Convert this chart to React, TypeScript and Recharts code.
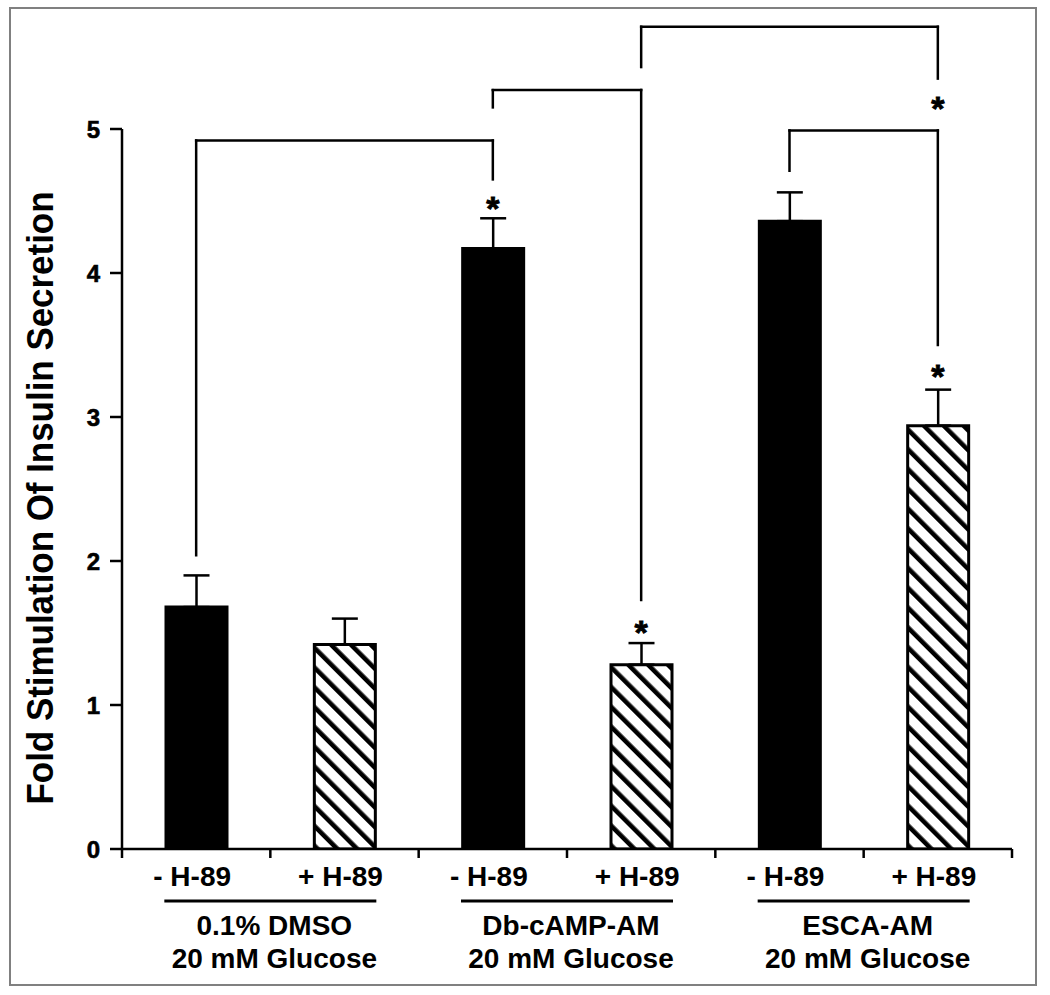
import React from 'react';
import { BarChart, Bar, XAxis, YAxis, ErrorBar, Cell, ReferenceLine, ReferenceDot } from 'recharts';

// values
const categoryIds = ['c0', 'c1', 'c2', 'c3', 'c4', 'c5'];
const conditionLabels = ['- H-89', '+ H-89', '- H-89', '+ H-89', '- H-89', '+ H-89'];
const groupLabels = ['0.1% DMSO', 'Db-cAMP-AM', 'ESCA-AM'];
const glucoseLabel = '20 mM Glucose';
const foldStimulation = [1.68, 1.42, 4.17, 1.28, 4.36, 2.94];
const semUpper = [0.22, 0.18, 0.21, 0.15, 0.2, 0.25];
const withH89 = [false, true, false, true, false, true];
const yTicks = [0, 1, 2, 3, 4, 5];

// significance brackets: from, to, bar level, left leg end, right leg end
const brackets = [
  { from: 'c0', to: 'c2', level: 4.92, leftEnd: 2.04, rightEnd: 4.65 },
  { from: 'c2', to: 'c3', level: 5.27, leftEnd: 5.15, rightEnd: 1.73 },
  { from: 'c3', to: 'c5', level: 5.71, leftEnd: 5.43, rightEnd: 5.35 },
  { from: 'c4', to: 'c5', level: 4.99, leftEnd: 4.71, rightEnd: 3.5 },
];
const stars = [
  { at: 'c2', y: 4.51 },
  { at: 'c3', y: 1.56 },
  { at: 'c5', y: 3.34 },
  { at: 'c5', y: 5.2 },
];

const chartData = categoryIds.map((id, i) => ({
  id,
  fold: foldStimulation[i],
  err: [0, semUpper[i]],
}));

const FONT = '"Liberation Sans", Arial, Helvetica, sans-serif';

const renderStar = (props: any) => {
  const vb = props.viewBox || {};
  const cx = (vb.x ?? 0) + (vb.width ?? 0) / 2;
  const cy = (vb.y ?? 0) + (vb.height ?? 0) / 2;
  return (
    <text
      x={cx}
      y={cy + 20}
      textAnchor="middle"
      fontSize={34}
      fontWeight="bold"
      fontFamily={FONT}
      fill="#000"
      stroke="#000"
      strokeWidth={0.8}
    >
      *
    </text>
  );
};

const ConditionTick = (props: any) => {
  const { x, y, payload, width, visibleTicksCount } = props;
  const i = payload?.index ?? props.index ?? 0;
  const half = (width || 890) / (visibleTicksCount || 6) / 2;
  const isLast = i === categoryIds.length - 1;
  const groupCenter = x + half;
  const textStyle = { fontSize: 28, fontWeight: 'bold' as const, fontFamily: FONT, fill: '#000' };
  return (
    <g>
      <line x1={x - half} x2={x - half} y1={y} y2={y + 9} stroke="#000" strokeWidth={2.5} />
      {isLast && <line x1={x + half} x2={x + half} y1={y} y2={y + 9} stroke="#000" strokeWidth={2.5} />}
      <text x={x - 4} y={y + 37} textAnchor="middle" {...textStyle}>
        {conditionLabels[i]}
      </text>
      {i % 2 === 0 && (
        <g>
          <line x1={groupCenter - 106} x2={groupCenter + 106} y1={y + 52} y2={y + 52} stroke="#000" strokeWidth={3} />
          <text x={groupCenter + 4} y={y + 86} textAnchor="middle" {...textStyle}>
            {groupLabels[i / 2]}
          </text>
          <text x={groupCenter + 4} y={y + 119} textAnchor="middle" {...textStyle}>
            {glucoseLabel}
          </text>
        </g>
      )}
    </g>
  );
};

const YTitle = (props: any) => {
  const vb = props.viewBox || { y: 129, height: 720 };
  const cy = vb.y + vb.height / 2 + 9;
  return (
    <text
      transform={`translate(53, ${cy}) rotate(-90)`}
      textAnchor="middle"
      fontSize={37}
      fontWeight="bold"
      fontFamily={FONT}
      fill="#000"
      textLength={613}
      lengthAdjust="spacingAndGlyphs"
    >
      Fold Stimulation Of Insulin Secretion
    </text>
  );
};

export default function App() {
  return (
    <div style={{ position: 'absolute', left: 0, top: 0, width: 1050, height: 995, background: '#fff' }}>
      <div
        style={{
          position: 'absolute',
          left: 9,
          top: 7,
          width: 1028,
          height: 979,
          border: '2px solid #808080',
          boxSizing: 'border-box',
        }}
      />
      <div style={{ position: 'absolute', left: 0, top: 0 }}>
        <BarChart
          width={1050}
          height={995}
          data={chartData}
          margin={{ top: 129, right: 38, left: 62, bottom: 0 }}
        >
          <defs>
            <pattern id="hatch" patternUnits="userSpaceOnUse" width={14} height={14} patternTransform="rotate(-45)">
              <rect x={0} y={0} width={14} height={14} fill="#fff" />
              <rect x={0} y={0} width={4.6} height={14} fill="#000" />
            </pattern>
          </defs>
          <XAxis
            dataKey="id"
            height={146}
            axisLine={{ stroke: '#000', strokeWidth: 2.5 }}
            tickLine={false}
            tickSize={0}
            tickMargin={0}
            interval={0}
            tick={<ConditionTick />}
          />
          <YAxis
            width={60}
            domain={[0, 5]}
            ticks={yTicks}
            allowDataOverflow
            axisLine={{ stroke: '#000', strokeWidth: 2.5 }}
            tickLine={{ stroke: '#000', strokeWidth: 2.5 }}
            tickSize={12}
            tickMargin={10}
            tick={{ fill: '#000', fontSize: 24, fontWeight: 'bold', fontFamily: FONT, stroke: '#000', strokeWidth: 0.6 }}
            label={<YTitle />}
          />
          <Bar dataKey="fold" barSize={61} stroke="#000" strokeWidth={3} isAnimationActive={false}>
            {chartData.map((d, i) => (
              <Cell key={d.id} fill={withH89[i] ? 'url(#hatch)' : '#000'} />
            ))}
            <ErrorBar dataKey="err" direction="y" width={13} stroke="#000" strokeWidth={2.5} isAnimationActive={false} />
          </Bar>
          {brackets.map((b, i) => (
            <ReferenceLine
              key={`bl-${i}`}
              segment={[{ x: b.from, y: b.leftEnd }, { x: b.from, y: b.level }]}
              stroke="#000"
              strokeWidth={2.5}
              strokeLinecap="square"
              ifOverflow="visible"
            />
          ))}
          {brackets.map((b, i) => (
            <ReferenceLine
              key={`bt-${i}`}
              segment={[{ x: b.from, y: b.level }, { x: b.to, y: b.level }]}
              stroke="#000"
              strokeWidth={2.5}
              strokeLinecap="square"
              ifOverflow="visible"
            />
          ))}
          {brackets.map((b, i) => (
            <ReferenceLine
              key={`br-${i}`}
              segment={[{ x: b.to, y: b.level }, { x: b.to, y: b.rightEnd }]}
              stroke="#000"
              strokeWidth={2.5}
              strokeLinecap="square"
              ifOverflow="visible"
            />
          ))}
          {stars.map((s, i) => (
            <ReferenceDot
              key={`st-${i}`}
              x={s.at}
              y={s.y}
              r={1}
              fill="none"
              stroke="none"
              ifOverflow="visible"
              label={renderStar}
            />
          ))}
        </BarChart>
      </div>
    </div>
  );
}
